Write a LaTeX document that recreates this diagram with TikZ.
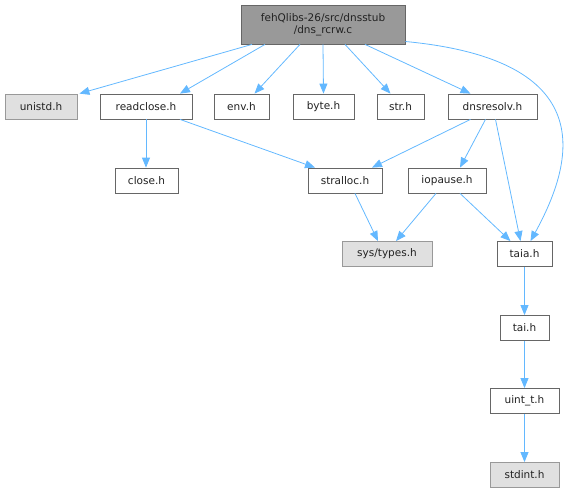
\documentclass[tikz,border=0pt]{standalone}
\usepackage{fontspec}
\setmainfont{DejaVu Sans}
\usetikzlibrary{arrows.meta,calc}
\definecolor{edgec}{HTML}{63B8FF}
\definecolor{rootfill}{HTML}{999999}
\definecolor{rootdraw}{HTML}{666666}
\definecolor{grayfill}{HTML}{E0E0E0}
\definecolor{graydraw}{HTML}{999999}
\definecolor{textc}{HTML}{222222}
\begin{document}
\begin{tikzpicture}[x=1pt,y=-1pt,
  box/.style={draw=rootdraw,fill=white,line width=0.8pt,inner sep=0pt,minimum height=25pt,font=\fontsize{10.5}{12.5}\selectfont,text=textc,anchor=center},
  sysbox/.style={box,draw=graydraw,fill=grayfill},
  rootbox/.style={box,draw=rootdraw,fill=rootfill,minimum height=39pt,align=center},
  dep/.style={draw=edgec,line width=0.8pt,-{Triangle[length=10pt,width=8pt]}}]
\useasboundingbox (0,0) rectangle (571,493);
\node[rootbox,minimum width=164pt] (root) at (323,24.5) {fehQlibs-26/src/dnsstub\\/dns\_rcrw.c};
\node[sysbox,minimum width=72pt] (unistd) at (41,106.5) {unistd.h};
\node[box,minimum width=92pt] (readclose) at (146,106.5) {readclose.h};
\node[box,minimum width=55pt] (env) at (241.5,106.5) {env.h};
\node[box,minimum width=61pt] (byte) at (323.5,106.5) {byte.h};
\node[box,minimum width=47pt] (str) at (400.5,106.5) {str.h};
\node[box,minimum width=89pt] (dnsresolv) at (492.5,106.5) {dnsresolv.h};
\node[box,minimum width=63pt] (close) at (146.5,180.5) {close.h};
\node[box,minimum width=74pt] (stralloc) at (345,180.5) {stralloc.h};
\node[box,minimum width=78pt] (iopause) at (447,180.5) {iopause.h};
\node[sysbox,minimum width=90pt] (systypes) at (387,254) {sys/types.h};
\node[box,minimum width=55pt] (taia) at (524.5,254) {taia.h};
\node[box,minimum width=49pt] (tai) at (524.5,328) {tai.h};
\node[box,minimum width=69pt] (uintt) at (524.5,401) {uint\_t.h};
\node[sysbox,minimum width=69pt] (stdint) at (524.5,475) {stdint.h};
\draw[dep] ($(root.south)+(-71,0)$) -- ($(unistd.north east)+(2,0)$);
\draw[dep] ($(root.south)+(-58,0)$) -- ($(readclose.north)+(34,0)$);
\draw[dep] ($(root.south)+(-23,0)$) -- ($(env.north)+(13,0)$);
\draw[dep] (root.south) -- (byte.north);
\draw[dep] ($(root.south)+(22,0)$) -- ($(str.north)+(-10,0)$);
\draw[dep] ($(root.south)+(42,0)$) -- ($(dnsresolv.north)+(-22,0)$);
\draw[dep] ($(root.east)+(0,17)$) .. controls (600,60) and (575,160) .. ($(taia.north)+(6,0)$);
\draw[dep] (readclose.south) -- ($(close.north)+(-0.5,0)$);
\draw[dep] ($(readclose.south)+(34,0)$) -- ($(stralloc.north)+(-30,0)$);
\draw[dep] ($(dnsresolv.south)+(-22,0)$) -- ($(stralloc.north)+(27,0)$);
\draw[dep] ($(dnsresolv.south)+(-7,0)$) -- ($(iopause.north)+(13,0)$);
\draw[dep] ($(dnsresolv.south)+(3,0)$) -- ($(taia.north)+(-4,0)$);
\draw[dep] ($(stralloc.south)+(10,0)$) -- ($(systypes.north)+(-9,0)$);
\draw[dep] ($(iopause.south)+(-11,0)$) -- ($(systypes.north)+(9,0)$);
\draw[dep] ($(iopause.south)+(13,0)$) -- ($(taia.north)+(-14,0)$);
\draw[dep] (taia) -- (tai);
\draw[dep] (tai) -- (uintt);
\draw[dep] (uintt) -- (stdint);
\end{tikzpicture}
\end{document}
